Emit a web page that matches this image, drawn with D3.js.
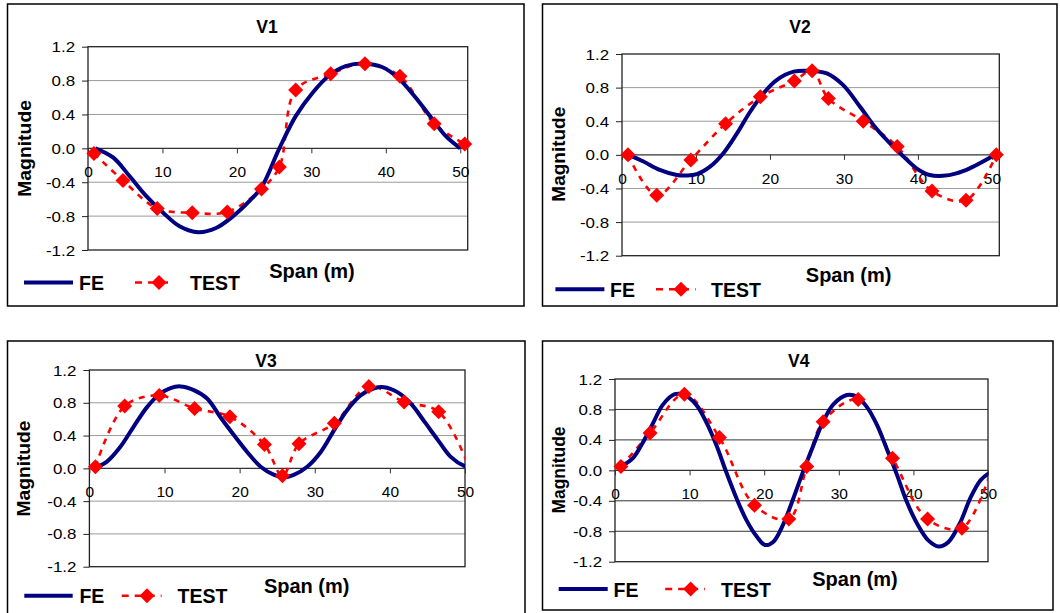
<!DOCTYPE html>
<html><head><meta charset="utf-8">
<script src="https://cdn.jsdelivr.net/npm/d3@7"></script>
<style>
body{margin:0;background:#fff}
svg text{font-family:"Liberation Sans",Arial,sans-serif;fill:#000}
</style>
</head><body>
<svg id="c" width="1060" height="613"></svg>
<script>
// ---------- data ----------
const panelTitles = ["V1", "V2", "V3", "V4"];
const xTickValues = [0, 10, 20, 30, 40, 50];
const yTickValues = [-1.2, -0.8, -0.4, 0.0, 0.4, 0.8, 1.2];
const seriesNames = ["FE", "TEST"];

// measurement stations (m) for TEST
const testSpan = [0.8, 4.7, 9.3, 14.0, 18.7, 23.3, 25.7, 27.9, 32.6, 37.2, 41.9, 46.5, 50.6];
const v1Test = [-0.06, -0.38, -0.71, -0.76, -0.75, -0.48, -0.22, 0.69, 0.88, 1.0, 0.85, 0.29, 0.05];
const v2Test = [0.0, -0.48, -0.06, 0.37, 0.69, 0.88, 1.0, 0.67, 0.40, 0.10, -0.43, -0.54, 0.0];
const v3Test = [0.02, 0.76, 0.89, 0.73, 0.63, 0.29, -0.09, 0.30, 0.55, 1.0, 0.81, 0.69, 0.0];
const v4Test = [0.05, 0.49, 1.0, 0.43, -0.46, -0.64, 0.05, 0.64, 0.93, 0.16, -0.64, -0.76, 0.05];

// FE mode shapes
const v1FeSpan = [1.0, 3.4, 5.6, 7.9, 10.1, 12.3, 14.8, 17.2, 19.5, 21.7, 23.3, 25.7, 27.9, 30.2, 32.4, 34.6, 37.1, 39.5, 41.8, 44.0, 46.2, 48.0, 50.0];
const v1FeMag  = [0.0, -0.11, -0.33, -0.57, -0.76, -0.92, -0.99, -0.94, -0.80, -0.62, -0.46, 0.0, 0.38, 0.66, 0.86, 0.97, 1.0, 0.96, 0.82, 0.60, 0.35, 0.15, 0.0];

const v2FeSpan = [0.9, 2.9, 5.1, 7.4, 8.7, 10.1, 11.9, 13.7, 15.5, 17.3, 19.1, 20.9, 23.2, 25.4, 27.7, 29.9, 32.2, 34.4, 36.7, 38.0, 39.8, 41.6, 43.4, 45.2, 47.0, 48.8, 50.4];
const v2FeMag  = [0.0, -0.08, -0.18, -0.24, -0.245, -0.23, -0.14, 0.02, 0.25, 0.51, 0.73, 0.89, 0.99, 1.0, 0.97, 0.83, 0.57, 0.31, 0.095, -0.015, -0.16, -0.24, -0.25, -0.22, -0.16, -0.08, 0.0];

const v3FeSpan = [0.75, 2.3, 4.1, 5.9, 7.7, 9.4, 10.8, 12.1, 13.9, 15.7, 17.4, 19.2, 21.0, 22.8, 24.6, 25.9, 27.2, 29.0, 30.8, 32.6, 34.3, 36.1, 37.9, 39.2, 41.0, 42.8, 44.6, 46.4, 48.1, 49.9, 50.4];
const v3FeMag  = [0.01, 0.08, 0.26, 0.51, 0.75, 0.91, 0.98, 1.0, 0.955, 0.85, 0.63, 0.41, 0.2, 0.02, -0.08, -0.11, -0.08, 0.02, 0.2, 0.47, 0.71, 0.89, 0.975, 0.99, 0.93, 0.79, 0.57, 0.345, 0.14, 0.03, 0.02];

const v4FeSpan = [0.8, 2.4, 3.7, 5.1, 6.4, 8.0, 9.3, 10.9, 12.2, 13.6, 14.9, 16.3, 17.6, 19.0, 20.1, 21.2, 22.5, 23.9, 25.2, 26.6, 27.9, 29.3, 31.1, 32.4, 33.7, 35.1, 36.4, 37.8, 39.1, 40.5, 42.0, 43.4, 44.7, 46.3, 47.6, 49.0, 50.1];
const v4FeMag  = [0.05, 0.16, 0.36, 0.62, 0.86, 1.0, 0.99, 0.86, 0.64, 0.33, -0.02, -0.37, -0.65, -0.87, -0.98, -0.94, -0.72, -0.37, -0.02, 0.33, 0.64, 0.87, 0.99, 0.97, 0.84, 0.6, 0.29, -0.06, -0.41, -0.7, -0.92, -1.0, -0.94, -0.68, -0.37, -0.13, -0.04];

const xAxisMax = [51, 51, 50, 50];

// ---------- layout (pixels) ----------
const layout = [
  {box:[7.5,4,524,306], plot:[88,46.7,467.7,250], title:[267,33], mag:[31,148.4,96.7], span:[312,278],
   legY:282.5, legTextY:290, feL:[24,73], feT:79, tL:[135,173], tD:159, tT:190, grid:"#9a9a9a"},
  {box:[542.5,4,1057,306], plot:[622,54,999.3,255.7], title:[800,33], mag:[565,154.2,95], span:[848.6,282],
   legY:289.3, legTextY:297, feL:[555.4,604.4], feT:610, tL:[656,695.6], tD:681, tT:711, grid:"#9a9a9a"},
  {box:[7.5,341,525,616], plot:[89.4,370,465,566.7], title:[266,366.7], mag:[30,468.5,96], span:[306.7,593.3],
   legY:595.7, legTextY:603.3, feL:[24.3,72.7], feT:79.4, tL:[121.7,161.6], tD:147, tT:177.5, grid:"#9a9a9a"},
  {box:[542.5,341,1053,610], plot:[615,379,988,561.7], title:[798.7,366.7], mag:[565,470,87], span:[855,586],
   legY:589, legTextY:596.7, feL:[558.7,607.7], feT:613.5, tL:[665.2,705], tD:690.6, tT:721, grid:"#333"}
];

const feSets = [[v1FeSpan, v1FeMag], [v2FeSpan, v2FeMag], [v3FeSpan, v3FeMag], [v4FeSpan, v4FeMag]];
const testSets = [v1Test, v2Test, v3Test, v4Test];

const FE_COLOR = "#000080", TEST_COLOR = "#ff0000";
const diamond = s => `M0,${-s}L${s},0L0,${s}L${-s},0Z`;
const fmt = d => d.toFixed(1);

const svg = d3.select("#c");

panelTitles.forEach((title, i) => {
  const L = layout[i];
  const g = svg.append("g");

  g.append("rect").attr("x", L.box[0]).attr("y", L.box[1])
    .attr("width", L.box[2] - L.box[0]).attr("height", L.box[3] - L.box[1])
    .attr("fill", "none").attr("stroke", "#000").attr("stroke-width", 1.5);

  const x = d3.scaleLinear().domain([0, xAxisMax[i]]).range([L.plot[0], L.plot[2]]);
  const y = d3.scaleLinear().domain([-1.2, 1.2]).range([L.plot[3], L.plot[1]]);

  // gridlines
  g.append("g").selectAll("line")
    .data(yTickValues.filter(v => v !== 0 && Math.abs(v) < 1.2))
    .join("line")
    .attr("x1", L.plot[0]).attr("x2", L.plot[2])
    .attr("y1", d => y(d)).attr("y2", d => y(d))
    .attr("stroke", L.grid).attr("stroke-width", 1);

  // plot frame
  g.append("rect").attr("x", L.plot[0]).attr("y", L.plot[1])
    .attr("width", L.plot[2] - L.plot[0]).attr("height", L.plot[3] - L.plot[1])
    .attr("fill", "none").attr("stroke", "#222").attr("stroke-width", 1.3);

  // y axis
  const ya = g.append("g").attr("transform", `translate(${L.plot[0]},0)`)
    .call(d3.axisLeft(y).tickValues(yTickValues).tickSize(6).tickSizeOuter(0).tickFormat(fmt));
  ya.select(".domain").remove();
  ya.selectAll("line").attr("stroke", "#222");
  ya.selectAll("text").attr("font-size", 14).attr("x", -10.7).attr("dy", "0.36em")
    .attr("transform", "scale(1.21,1)").attr("font-family", null);

  // x axis at zero
  const xa = g.append("g").attr("transform", `translate(0,${y(0)})`)
    .call(d3.axisBottom(x).tickValues(xTickValues).tickSize(5).tickSizeOuter(0));
  xa.select(".domain").attr("d", `M${L.plot[0]},0H${L.plot[2]}`).attr("stroke", "#333").attr("stroke-width", 1.2);
  xa.selectAll("line").attr("stroke", "#333");
  xa.selectAll("text").attr("font-size", 15.5).attr("y", 29).attr("dy", "0").attr("font-family", null);

  // clip
  const cid = "clip" + i;
  svg.append("clipPath").attr("id", cid).append("rect")
    .attr("x", L.plot[0]).attr("y", L.plot[1] - 2)
    .attr("width", L.plot[2] - L.plot[0]).attr("height", L.plot[3] - L.plot[1] + 4);

  const fe = feSets[i][0].map((s, k) => [s, feSets[i][1][k]]);
  const test = testSpan.map((s, k) => [s, testSets[i][k]]);
  const line = d3.line().x(d => x(d[0])).y(d => y(d[1])).curve(d3.curveCatmullRom.alpha(0.5));

  g.append("path").attr("d", line(test)).attr("clip-path", `url(#${cid})`)
    .attr("fill", "none").attr("stroke", TEST_COLOR).attr("stroke-width", 2.6)
    .attr("stroke-dasharray", "6,6");
  g.append("path").attr("d", line(fe)).attr("clip-path", `url(#${cid})`)
    .attr("fill", "none").attr("stroke", FE_COLOR).attr("stroke-width", 4);

  g.append("g").selectAll("path").data(test.filter(d => d[0] <= xAxisMax[i])).join("path")
    .attr("transform", d => `translate(${x(d[0])},${y(d[1])})`)
    .attr("d", diamond(7.5)).attr("fill", TEST_COLOR);

  // titles
  g.append("text").attr("x", L.title[0]).attr("y", L.title[1]).attr("text-anchor", "middle")
    .attr("font-size", 17.5).attr("font-weight", "bold").text(title);
  g.append("text").attr("transform", `translate(${L.mag[0]},${L.mag[1]}) rotate(-90)`)
    .attr("text-anchor", "middle").attr("font-size", 19).attr("font-weight", "bold")
    .attr("textLength", L.mag[2]).attr("lengthAdjust", "spacingAndGlyphs").text("Magnitude");
  g.append("text").attr("x", L.span[0]).attr("y", L.span[1]).attr("text-anchor", "middle")
    .attr("font-size", 20).attr("font-weight", "bold").text("Span (m)");

  // legend
  g.append("line").attr("x1", L.feL[0]).attr("x2", L.feL[1]).attr("y1", L.legY).attr("y2", L.legY)
    .attr("stroke", FE_COLOR).attr("stroke-width", 4);
  g.append("text").attr("x", L.feT).attr("y", L.legTextY).attr("font-size", 19.5)
    .attr("font-weight", "bold").text(seriesNames[0]);
  g.append("line").attr("x1", L.tL[0]).attr("x2", L.tL[1]).attr("y1", L.legY).attr("y2", L.legY)
    .attr("stroke", TEST_COLOR).attr("stroke-width", 2.6).attr("stroke-dasharray", "7,6");
  g.append("path").attr("transform", `translate(${L.tD},${L.legY})`).attr("d", diamond(7.5)).attr("fill", TEST_COLOR);
  g.append("text").attr("x", L.tT).attr("y", L.legTextY).attr("font-size", 19.5)
    .attr("font-weight", "bold").text(seriesNames[1]);
});
</script>
</body></html>
